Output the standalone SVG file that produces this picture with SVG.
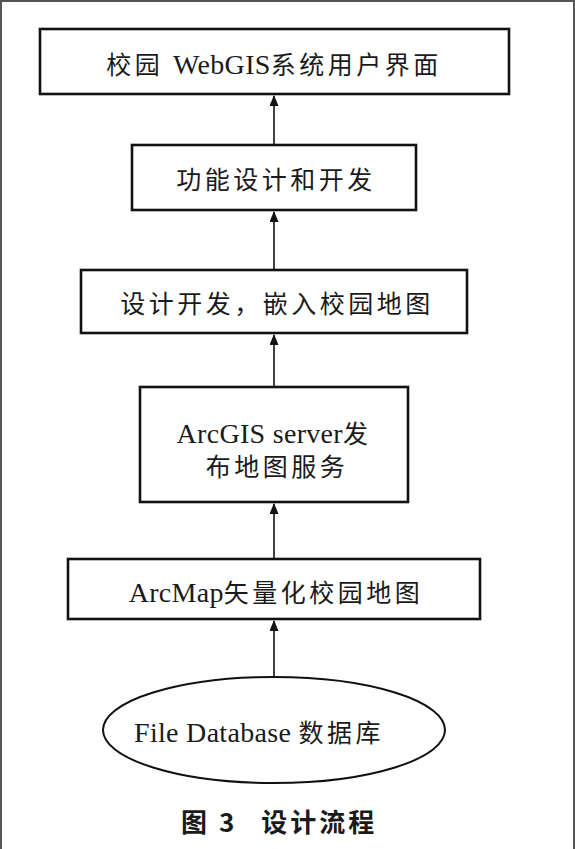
<svg xmlns="http://www.w3.org/2000/svg" width="575" height="849" viewBox="0 0 575 849">
<defs>
<marker id="ah" markerWidth="11" markerHeight="9" refX="10" refY="4.5" orient="auto" markerUnits="userSpaceOnUse" viewBox="0 0 11 9">
<path d="M0,0 L11,4.5 L0,9 Z" fill="#111"/>
</marker>
</defs>
<style>
.box{fill:#fff;stroke:#111;stroke-width:2.6}
.t{font-family:"Liberation Serif","Noto Sans CJK SC",serif;font-size:25px;fill:#1a1a1a;text-anchor:middle;letter-spacing:3.5px}
.l{font-size:28px;letter-spacing:0.3px}
.c{stroke:#111;stroke-width:1.6;fill:none}
.cap{font-family:"Noto Sans CJK SC",sans-serif;font-weight:bold;font-size:26px;fill:#1a1a1a;letter-spacing:3px}
</style>
<rect width="575" height="849" fill="#fff"/>
<path d="M1,849 V1 H574 V849" fill="none" stroke="#555" stroke-width="2"/>
<g id="n1"><rect class="box" x="40" y="29" width="469" height="65"/><text class="t" x="274" y="74">校园 <tspan class="l">WebGIS</tspan>系统用户界面</text></g>
<g id="n2"><rect class="box" x="132" y="145" width="284" height="65"/><text class="t" x="276" y="189">功能设计和开发</text></g>
<g id="n3"><rect class="box" x="81" y="270" width="386" height="63"/><text class="t" x="277" y="313">设计开发，嵌入校园地图</text></g>
<g id="n4"><rect class="box" x="140" y="387" width="268" height="115"/><text class="t" x="274" y="443"><tspan class="l">ArcGIS server</tspan>发</text><text class="t" x="277" y="476">布地图服务</text></g>
<g id="n5"><rect class="box" x="68" y="559" width="412" height="60"/><text class="t" x="276" y="602"><tspan class="l">ArcMap</tspan>矢量化校园地图</text></g>
<g id="n6"><ellipse cx="274" cy="730" rx="171" ry="53" fill="#fff" stroke="#111" stroke-width="2"/><text class="t" x="259" y="742"><tspan class="l">File Database </tspan>数据库</text></g>
<g id="edges">
<line class="c" x1="274" y1="145" x2="274" y2="96" marker-end="url(#ah)"/>
<line class="c" x1="274" y1="270" x2="274" y2="212" marker-end="url(#ah)"/>
<line class="c" x1="274" y1="387" x2="274" y2="335" marker-end="url(#ah)"/>
<line class="c" x1="274" y1="559" x2="274" y2="504" marker-end="url(#ah)"/>
<line class="c" x1="274" y1="677" x2="274" y2="621" marker-end="url(#ah)"/>
</g>
<text class="cap" x="181" y="832">图 3<tspan dx="24">设计流程</tspan></text>
</svg>
